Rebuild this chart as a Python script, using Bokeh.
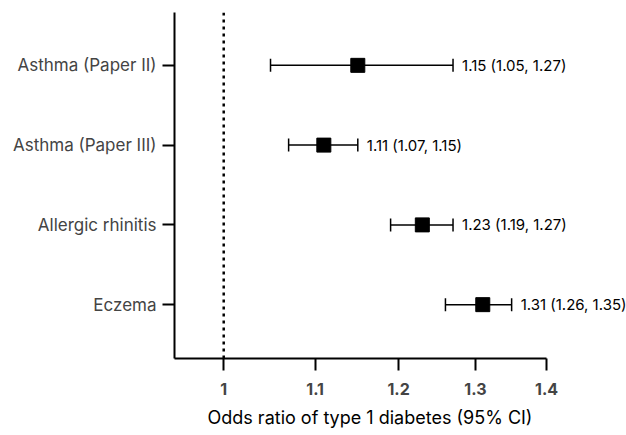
from bokeh.plotting import figure
from bokeh.models import (ColumnDataSource, Range1d, FixedTicker, Span, Whisker,
                          TeeHead, NumeralTickFormatter, Title)
from bokeh.core.properties import value
from bokeh.embed import file_html
from bokeh.resources import INLINE

categories = ["Asthma (Paper II)", "Asthma (Paper III)", "Allergic rhinitis", "Eczema"]
odds_ratio = [1.15, 1.11, 1.23, 1.31]
ci_lower = [1.05, 1.07, 1.19, 1.26]
ci_upper = [1.27, 1.15, 1.27, 1.35]
x_ticks = [1.0, 1.1, 1.2, 1.3, 1.4]
x_label = "Odds ratio of type 1 diabetes (95% CI)"

n = len(categories)
ypos = [n - i for i in range(n)]
labels = [f"{o:.2f} ({lo:.2f}, {hi:.2f})" for o, lo, hi in zip(odds_ratio, ci_lower, ci_upper)]

src = ColumnDataSource(dict(y=ypos, orr=odds_ratio, lo=ci_lower, hi=ci_upper, lab=labels))

FONT = "Inter"

p = figure(width=626, height=435, x_axis_type="log",
           x_range=Range1d(0.95, 1.5217), y_range=Range1d(0.325, 4.6625),
           output_backend="svg", toolbar_location=None,
           min_border_left=174, min_border_top=12, min_border_right=0,
           min_border_bottom=0)
p.outline_line_color = None
p.xgrid.visible = False
p.ygrid.visible = False
p.background_fill_color = "white"

# reference line
p.add_layout(Span(location=1.0, dimension="height", line_color="black",
                  line_width=2.5, line_dash="3 4"))

w = Whisker(source=src, base="y", lower="lo", upper="hi", dimension="width",
            line_color="black", line_width=1.5,
            lower_head=TeeHead(size=13, line_color="black", line_width=1.5),
            upper_head=TeeHead(size=13, line_color="black", line_width=1.5))
p.add_layout(w)

p.scatter(x="orr", y="y", source=src, marker="square", size=14,
          fill_color="black", line_color="black")

p.text(x="hi", y="y", text="lab", source=src, x_offset=9,
       text_baseline="middle", text_align="left", text_font=value(FONT),
       text_font_size="15px", text_color="black")

# x axis
xa = p.xaxis[0]
xa.ticker = FixedTicker(ticks=x_ticks)
xa.formatter = NumeralTickFormatter(format="0.[0]")
xa.bounds = (0.95, 1.4)
xa.major_label_text_font = FONT
xa.major_label_text_font_style = "bold"
xa.major_label_text_font_size = "16px"
xa.major_label_standoff = 12
xa.minor_tick_line_color = None
xa.major_tick_out = 12
xa.major_tick_in = 0
xa.axis_line_width = 2
xa.major_tick_line_width = 2
xa.axis_line_color = "black"
xa.major_tick_line_color = "black"

# x axis title, placed below the tick labels
p.add_layout(Title(text=x_label, align="left", offset=33, standoff=15,
                   text_font=FONT, text_font_style="normal",
                   text_font_size="18px", text_color="black"), "below")

# y axis
ya = p.yaxis[0]
ya.ticker = FixedTicker(ticks=ypos)
ya.major_label_overrides = {y: c for y, c in zip(ypos, categories)}
ya.major_label_text_font = FONT
ya.major_label_text_font_size = "17px"
ya.major_label_standoff = 6
ya.minor_tick_line_color = None
ya.major_tick_out = 12
ya.major_tick_in = 0
ya.axis_line_width = 2
ya.major_tick_line_width = 2
ya.axis_line_color = "black"
ya.major_tick_line_color = "black"

open("out.html", "w").write(file_html(p, INLINE))
